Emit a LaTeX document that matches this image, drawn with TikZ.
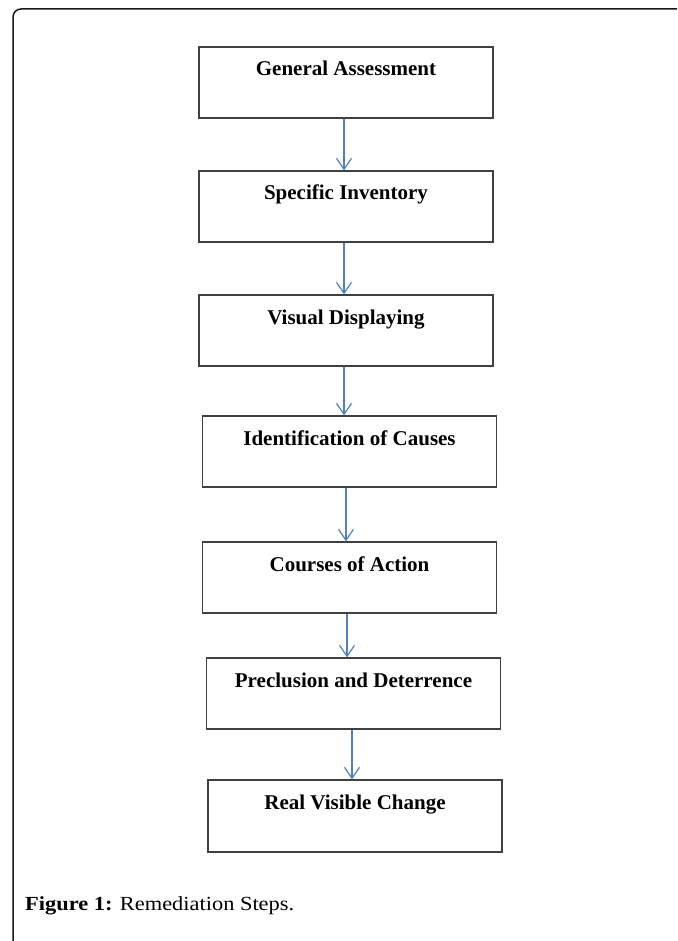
\documentclass[tikz,border=0pt]{standalone}
\usepackage{fontspec}
\setmainfont{Liberation Serif}
\newfontfamily\capfont{Liberation Serif}[FakeStretch=1.12]
\usetikzlibrary{arrows.meta}
\definecolor{arrowblue}{HTML}{4F81BD}

\begin{document}
\begin{tikzpicture}[x=1pt, y=-1pt,
  stepbox/.style={shape=rectangle, draw=black!75, line width=1.3pt, minimum width=294pt, minimum height=71pt,
    inner xsep=0pt, inner ysep=0pt, text height=29pt, text depth=42pt, font=\fontsize{21}{25}\selectfont\bfseries},
  flow/.style={-{Straight Barb[length=11pt, width=15pt]}, line width=1.2pt, arrowblue}]
  \useasboundingbox (0,0) rectangle (677,941);
  \draw [line width=1.5pt, black!90, rounded corners=8pt] (13,941) -- (13,9) -- (677,9);

  \node [stepbox] (b1) at (346,82.5) {General Assessment};
  \node [stepbox] (b2) at (346,206.5) {Specific Inventory};
  \node [stepbox] (b3) at (346,330.5) {Visual Displaying};
  \node [stepbox] (b4) at (349.5,451.5) {Identification of Causes};
  \node [stepbox] (b5) at (349.5,577.5) {Courses of Action};
  \node [stepbox] (b6) at (353.5,693.5) {Preclusion and Deterrence};
  \node [stepbox, minimum height=72pt] (b7) at (355,816) {Real Visible Change};

  \draw [flow] ([xshift=-2pt]b1.south) -- ([xshift=-2pt]b1.south |- b2.north);
  \draw [flow] ([xshift=-2pt]b2.south) -- ([xshift=-2pt]b2.south |- b3.north);
  \draw [flow] ([xshift=-2pt]b3.south) -- ([xshift=-2pt]b3.south |- b4.north);
  \draw [flow] ([xshift=-3.5pt]b4.south) -- ([xshift=-3.5pt]b4.south |- b5.north);
  \draw [flow] ([xshift=-2.5pt]b5.south) -- ([xshift=-2.5pt]b5.south |- b6.north);
  \draw [flow] ([xshift=-1.5pt]b6.south) -- ([xshift=-1.5pt]b6.south |- b7.north);

  \node [anchor=base west, inner sep=0pt, font=\capfont\fontsize{20}{24}\selectfont] (caption) at (25,910)
    {\textbf{Figure 1:} Remediation Steps.};
\end{tikzpicture}
\end{document}
